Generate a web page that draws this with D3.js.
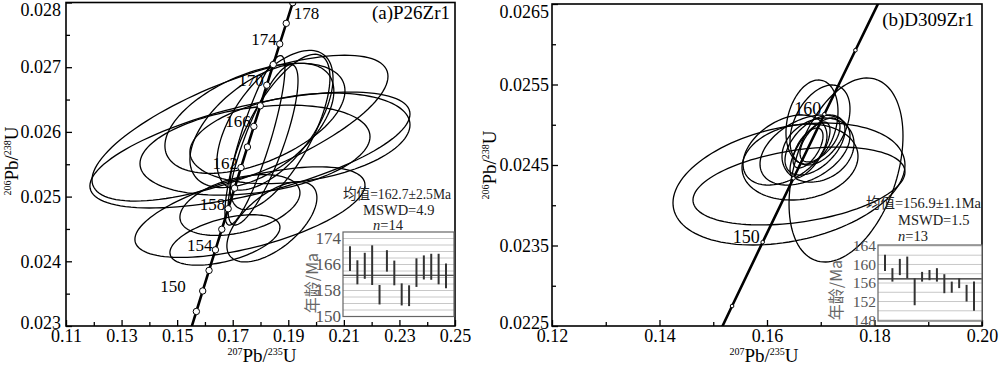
<!DOCTYPE html>
<html><head><meta charset="utf-8">
<script src="https://cdn.jsdelivr.net/npm/d3@7"></script>
<style>body{margin:0;background:#fff}</style>
</head><body>
<svg id="c" width="1000" height="366"></svg>
<script>
// ---------------- DATA ----------------
// Concordia (206Pb/238U vs 207Pb/235U) nodes, panel a
const concA_age = [146,148,150,152,154,156,158,160,162,164,166,168,170,172,174,176,178,180];
const concA_x = [0.154640,0.156916,0.159197,0.161483,0.163773,0.166067,0.168366,0.170670,0.172978,0.175291,0.177608,0.179930,0.182256,0.184587,0.186923,0.189263,0.191608,0.193957];
const concA_y = [0.0229067,0.0232241,0.0235416,0.0238592,0.0241769,0.0244947,0.0248126,0.0251306,0.0254487,0.0257669,0.0260852,0.0264035,0.0267220,0.0270406,0.0273593,0.0276781,0.0279970,0.0283160];
const concA_markers = [148,150,152,154,156,158,160,162,164,166,168,170,172,174,176,178];
const concA_labels = [150,154,158,162,166,170,174,178];
// Concordia nodes, panel b
const concB_age = [140,145,150,155,160,165,170];
const concB_x = [0.147837,0.153503,0.159197,0.164920,0.170670,0.176449,0.182256];
const concB_y = [0.0219550,0.0227480,0.0235416,0.0243358,0.0251306,0.0259260,0.0267220];
const concB_markers = [145,150,155,160,165];
const concB_labels = [150,160];

// Error ellipses panel a: centre x, centre y, half-width x, half-height y, correlation
const ellA_cx  = [0.1762,0.17262,0.1780,0.1805,0.1852,0.1780,0.1809,0.1870,0.17802,0.1942,0.1762,0.1672,0.1841,0.1726];
const ellA_cy  = [0.02572,0.026058,0.02621,0.02610,0.02618,0.02587,0.02580,0.02600,0.025718,0.02590,0.02476,0.02433,0.02461,0.02487];
const ellA_hx  = [0.0576,0.05326,0.0324,0.0259,0.0209,0.0108,0.0126,0.0180,0.04139,0.0396,0.0414,0.0198,0.0162,0.0216];
const ellA_hy  = [0.000896,0.001127,0.00085,0.00096,0.00108,0.00131,0.00124,0.00120,0.000695,0.00070,0.00070,0.00039,0.00062,0.00047];
const ellA_rho = [0.62,0.71,0.5,0.55,0.6,0.85,0.8,0.7,0.3,0.3,0.6,0.5,0.6,0.4];

// Error ellipses panel b
const ellB_cx  = [0.16409,0.16595,0.1747,0.16837,0.16707,0.16893,0.16800,0.16986,0.16614,0.16949,0.16335,0.16986,0.16763];
const ellB_cy  = [0.024264,0.024239,0.024438,0.025034,0.024686,0.024748,0.024686,0.024811,0.024537,0.024686,0.024686,0.024997,0.024711];
const ellB_hx  = [0.02158,0.01972,0.0106,0.00484,0.00837,0.00558,0.00372,0.00372,0.01079,0.0067,0.00781,0.00558,0.00279];
const ellB_hy  = [0.000758,0.000484,0.001143,0.000522,0.000435,0.000373,0.000348,0.000273,0.000472,0.000398,0.000435,0.000497,0.000248];
const ellB_rho = [0.31,0.36,0.37,0.25,0.4,0.5,0.7,0.6,0.15,0.2,0.4,0.4,0.6];

// Weighted-mean insets (age, half error bar), Ma
const wmA_age = [167.8,163.6,165.6,165.8,156.7,167.1,163.4,156.8,156.4,163.5,165.1,165.3,164.6,162.5];
const wmA_err = [3.8,3.7,4.0,6.1,3.0,3.3,3.8,3.4,3.2,4.4,3.7,4.0,4.7,3.8];
const wmA_mean = 162.7;
const wmA_ticks = [150,158,166,174];
const wmA_grid = [152,154,156,160,162,164,168,170,172];
const wmB_age = [160.35,157.75,159.45,159.35,154.1,157.35,157.7,157.75,155.85,155.1,155.95,153.8,153.15];
const wmB_err = [1.75,1.45,1.75,2.35,2.9,1.05,1.1,1.45,2.05,1.2,1.05,1.8,3.15];
const wmB_mean = 156.9;
const wmB_ticks = [148,152,156,160,164];
const wmB_grid = [150,154,158,162];

// Axis ticks
const axA_x = [0.11,0.13,0.15,0.17,0.19,0.21,0.23,0.25];
const axA_xMinor = [0.12,0.14,0.16,0.18,0.20,0.22,0.24];
const axA_y = [0.023,0.024,0.025,0.026,0.027,0.028];
const axA_yMinor = [0.0235,0.0245,0.0255,0.0265,0.0275];
const axB_x = [0.12,0.14,0.16,0.18,0.20];
const axB_xMinor = [0.13,0.15,0.17,0.19];
const axB_y = [0.0225,0.0235,0.0245,0.0255,0.0265];
const axB_yMinor = [0.0230,0.0240,0.0250,0.0260];

// Texts
const titleA = "(a)P26Zr1", titleB = "(b)D309Zr1";
const statsA = ["均值=162.7±2.5Ma","MSWD=4.9","14"];
const statsB = ["均值=156.9±1.1Ma","MSWD=1.5","13"];

// ---------------- DRAW ----------------
const SERIF = "'Liberation Serif','Times New Roman',serif";
const svg = d3.select('#c');
svg.append('rect').attr('width',1000).attr('height',366).attr('fill','#fff');

function ellipsePts(cx,cy,hx,hy,r){
  const pts=[]; const s=Math.sqrt(1-r*r);
  for(let i=0;i<120;i++){const t=i/120*2*Math.PI;
    pts.push([cx+hx*Math.cos(t), cy+hy*(r*Math.cos(t)+s*Math.sin(t))]);}
  return pts;
}

function panel(c){
  const x=d3.scaleLinear().domain(c.xd).range(c.xr);
  const y=d3.scaleLinear().domain(c.yd).range(c.yr);
  const g=svg.append('g');
  const cid=c.id+'clip';
  svg.append('clipPath').attr('id',cid).append('rect')
    .attr('x',c.xr[0]).attr('y',c.yr[1]).attr('width',c.xr[1]-c.xr[0]).attr('height',c.yr[0]-c.yr[1]);
  const pg=g.append('g').attr('clip-path',`url(#${cid})`);
  const line=d3.line().x(d=>x(d[0])).y(d=>y(d[1]));
  const closed=d3.line().x(d=>x(d[0])).y(d=>y(d[1])).curve(d3.curveLinearClosed);
  c.ell.cx.forEach((v,i)=>{
    pg.append('path').attr('d',closed(ellipsePts(v,c.ell.cy[i],c.ell.hx[i],c.ell.hy[i],c.ell.rho[i])))
      .attr('fill','none').attr('stroke','#000').attr('stroke-width',1.3);
  });
  const cpts=c.conc.x.map((v,i)=>[v,c.conc.y[i]]);
  pg.append('path').attr('d',line.curve(d3.curveCatmullRom)(cpts)).attr('fill','none')
    .attr('stroke','#000').attr('stroke-width',2.6);
  c.conc.markers.forEach(a=>{
    const i=c.conc.age.indexOf(a);
    pg.append('circle').attr('cx',x(c.conc.x[i])).attr('cy',y(c.conc.y[i])).attr('r',c.mr)
      .attr('fill','#fff').attr('stroke','#000').attr('stroke-width',1);
  });
  c.conc.labels.forEach(a=>{
    const i=c.conc.age.indexOf(a);
    const px=x(c.conc.x[i]), py=y(c.conc.y[i]);
    const right = a===c.rightLabel;
    g.append('text').attr('x', right?px+1:px-3-(a===c.farLabel?14:0)).attr('y', right?py+16:py+1)
      .attr('text-anchor', right?'start':'end').attr('font-family',SERIF).attr('font-size',c.lfs).text(a);
  });
  // axes
  const styleAxis=sel=>{sel.select('.domain').remove(); sel.attr('font-family',SERIF).attr('font-size',18);
    sel.selectAll('line').attr('stroke','#000').attr('stroke-width',1.3); sel.selectAll('text').attr('fill','#000');};
  g.append('g').attr('transform',`translate(0,${c.yr[0]})`)
    .call(d3.axisBottom(x).tickValues(c.ax.x).tickFormat(d3.format(c.xf)).tickSize(-6).tickSizeOuter(0).tickPadding(3)).call(styleAxis);
  g.append('g').attr('transform',`translate(0,${c.yr[0]})`)
    .call(d3.axisBottom(x).tickValues(c.ax.xm).tickFormat('').tickSize(-4).tickSizeOuter(0)).call(styleAxis);
  const ya=g.append('g').attr('transform',`translate(${c.xr[0]},0)`)
    .call(d3.axisLeft(y).tickValues(c.ax.y).tickFormat(d3.format(c.yf)).tickSize(-6).tickSizeOuter(0).tickPadding(c.yp)).call(styleAxis);
  // keep the top label inside the picture, lift the bottom one off the x labels
  ya.selectAll('.tick').filter(d=>y(d)<c.topMin).select('text').attr('y',c.topMin-y(c.ax.y[c.ax.y.length-1]));
  ya.selectAll('.tick').filter(d=>d===c.ax.y[0]).select('text').attr('y',-3);
  g.append('g').attr('transform',`translate(${c.xr[0]},0)`)
    .call(d3.axisLeft(y).tickValues(c.ax.ym).tickFormat('').tickSize(-4).tickSizeOuter(0)).call(styleAxis);
  g.append('rect').attr('x',c.xr[0]).attr('y',c.yr[1]).attr('width',c.xr[1]-c.xr[0]).attr('height',c.yr[0]-c.yr[1])
    .attr('fill','none').attr('stroke','#000').attr('stroke-width',1.6);
  // axis titles
  const xt=g.append('text').attr('x',c.xtx).attr('y',362).attr('text-anchor','middle').attr('font-family',SERIF).attr('font-size',19);
  xt.append('tspan').attr('font-size',10).attr('dy',-7).text('207');
  xt.append('tspan').attr('dy',7).text('Pb/');
  xt.append('tspan').attr('font-size',10).attr('dy',-7).text('235');
  xt.append('tspan').attr('dy',7).text('U');
  const yt=g.append('text').attr('transform',`translate(${c.ytx},${c.yty}) rotate(-90)`).attr('text-anchor','middle')
    .attr('font-family',SERIF).attr('font-size',19);
  yt.append('tspan').attr('font-size',10).attr('dy',-7).text('206');
  yt.append('tspan').attr('dy',7).text('Pb/');
  yt.append('tspan').attr('font-size',10).attr('dy',-7).text('238');
  yt.append('tspan').attr('dy',7).text('U');
  g.append('text').attr('x',c.title.x).attr('y',c.title.y).attr('text-anchor','end').attr('font-family',SERIF)
    .attr('font-size',19).text(c.title.t);
  // stats
  const s=c.stats;
  g.append('text').attr('x',s.x1).attr('y',s.y1).attr('font-family',SERIF+",'Noto Sans CJK SC'").attr('font-size',14.5)
    .attr('fill','#222').attr('textLength',s.w1).attr('lengthAdjust','spacingAndGlyphs').text(s.t[0]);
  g.append('text').attr('x',s.x2).attr('y',s.y2).attr('font-family',SERIF).attr('font-size',14.5).attr('fill','#222').text(s.t[1]);
  const nt=g.append('text').attr('x',s.x3).attr('y',s.y3).attr('font-family',SERIF).attr('font-size',14.5).attr('fill','#222');
  nt.append('tspan').attr('font-style','italic').text('n');
  nt.append('tspan').text('='+s.t[2]);
  // inset
  const w=c.wm;
  const iy=d3.scaleLinear().domain(w.d).range([w.b,w.t]);
  const ix=d3.scalePoint().domain(d3.range(w.age.length)).range([w.bx0,w.bx1]);
  const ig=g.append('g');
  ig.append('rect').attr('x',w.x0).attr('y',w.t).attr('width',w.x1-w.x0).attr('height',w.b-w.t).attr('fill','#fff');
  w.grid.concat(w.ticks).forEach(v=>{
    ig.append('line').attr('x1',w.x0).attr('x2',w.x1).attr('y1',iy(v)).attr('y2',iy(v)).attr('stroke','#c8c8c8').attr('stroke-width',1);
  });
  ig.append('line').attr('x1',w.x0).attr('x2',w.x1).attr('y1',iy(w.mean)).attr('y2',iy(w.mean)).attr('stroke','#222').attr('stroke-width',1.2);
  w.age.forEach((a,i)=>{
    ig.append('line').attr('x1',ix(i)).attr('x2',ix(i)).attr('y1',iy(a-w.err[i])).attr('y2',iy(a+w.err[i]))
      .attr('stroke','#333').attr('stroke-width',2);
  });
  ig.append('rect').attr('x',w.x0).attr('y',w.t).attr('width',w.x1-w.x0).attr('height',w.b-w.t).attr('fill','none')
    .attr('stroke','#666').attr('stroke-width',1.2);
  ig.append('g').attr('transform',`translate(${w.x0},0)`)
    .call(d3.axisLeft(iy).tickValues(w.ticks).tickFormat(d3.format('d')).tickSize(0).tickPadding(2))
    .call(sel=>{sel.select('.domain').remove(); sel.attr('font-family',SERIF).attr('font-size',w.fs); sel.selectAll('text').attr('fill','#555');});
  ig.append('text').attr('transform',`translate(${w.lx},${w.ly}) rotate(-90)`).attr('text-anchor','middle')
    .attr('font-family',"'Noto Sans CJK SC',sans-serif").attr('font-size',16).attr('fill','#666').text('年龄/Ma');
}

panel({id:'a', xd:[0.11,0.25], yd:[0.023,0.028], xr:[66,455], yr:[326,2.5], xf:'.2f', yf:'.3f', yp:5, mr:3.2, lfs:17, topMin:10,
  ell:{cx:ellA_cx,cy:ellA_cy,hx:ellA_hx,hy:ellA_hy,rho:ellA_rho},
  conc:{age:concA_age,x:concA_x,y:concA_y,markers:concA_markers,labels:concA_labels}, rightLabel:178, farLabel:150,
  ax:{x:axA_x,xm:axA_xMinor,y:axA_y,ym:axA_yMinor}, xtx:262, ytx:18, yty:161,
  title:{t:titleA,x:450,y:19},
  stats:{t:statsA,x1:343,y1:199,w1:108,x2:363,y2:215,x3:373,y3:230},
  wm:{age:wmA_age,err:wmA_err,mean:wmA_mean,ticks:wmA_ticks,grid:wmA_grid,d:[150,176],b:316.5,t:232,x0:343,x1:454,bx0:350,bx1:446,lx:318,ly:283,fs:17}
});
panel({id:'b', xd:[0.12,0.20], yd:[0.0225,0.0265], xr:[552,982], yr:[326,4], xf:'.2f', yf:'.4f', yp:3, mr:1.8, lfs:18, topMin:12,
  ell:{cx:ellB_cx,cy:ellB_cy,hx:ellB_hx,hy:ellB_hy,rho:ellB_rho},
  conc:{age:concB_age,x:concB_x,y:concB_y,markers:concB_markers,labels:concB_labels}, rightLabel:null, farLabel:null,
  ax:{x:axB_x,xm:axB_xMinor,y:axB_y,ym:axB_yMinor}, xtx:764, ytx:496, yty:165,
  title:{t:titleB,x:974,y:26},
  stats:{t:statsB,x1:866,y1:208,w1:115,x2:898,y2:225,x3:898,y3:241},
  wm:{age:wmB_age,err:wmB_err,mean:wmB_mean,ticks:wmB_ticks,grid:wmB_grid,d:[147.8,164.2],b:321,t:245,x0:878,x1:982,bx0:885,bx1:974,lx:842,ly:290,fs:15.5}
});
</script>
</body></html>
